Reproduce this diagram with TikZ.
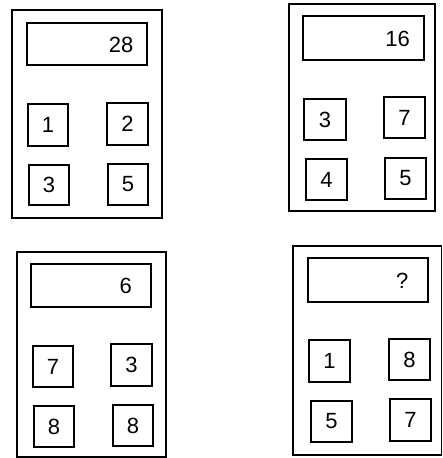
\documentclass[tikz,border=0pt]{standalone}
\usepackage{fontspec}
\setmainfont{Liberation Sans}
\begin{document}
\begin{tikzpicture}[x=1pt,y=-1pt,
  keybox/.style={draw,line width=1.8pt,inner sep=0pt,font=\fontsize{22}{22}\selectfont},
  readout/.style={inner sep=0pt,anchor=east,font=\fontsize{22}{22}\selectfont}]
\useasboundingbox (0,0) rectangle (443,458);
% calculator 1
\draw[line width=1.8pt] (12,10) rectangle (162,218);
\draw[line width=1.8pt] (27,23) rectangle (147,65);
\node[readout] (d1) at (133.5,45) {28};
\node[keybox,minimum width=40pt,minimum height=42pt] (a1) at (48,125) {1};
\node[keybox,minimum width=41pt,minimum height=42pt] (a2) at (127.5,124) {2};
\node[keybox,minimum width=40pt,minimum height=40pt] (a3) at (49,185) {3};
\node[keybox,minimum width=40pt,minimum height=41pt] (a4) at (128,184.5) {5};
% calculator 2
\draw[line width=1.8pt] (289,4) rectangle (435,211);
\draw[line width=1.8pt] (303,16) rectangle (424,60);
\node[readout] (d2) at (410,39) {16};
\node[keybox,minimum width=42pt,minimum height=41pt] (b1) at (325,119.5) {3};
\node[keybox,minimum width=41pt,minimum height=41pt] (b2) at (404.5,117.5) {7};
\node[keybox,minimum width=41pt,minimum height=41pt] (b3) at (326.5,179.5) {4};
\node[keybox,minimum width=41pt,minimum height=41pt] (b4) at (405.5,178.5) {5};
% calculator 3
\draw[line width=1.8pt] (17,252) rectangle (166,457);
\draw[line width=1.8pt] (31,264) rectangle (151,307);
\node[readout] (d3) at (132,286) {6};
\node[keybox,minimum width=40pt,minimum height=41pt] (c1) at (53,366.5) {7};
\node[keybox,minimum width=41pt,minimum height=42pt] (c2) at (131.5,365) {3};
\node[keybox,minimum width=40pt,minimum height=41pt] (c3) at (54,426.5) {8};
\node[keybox,minimum width=40pt,minimum height=41pt] (c4) at (133,425.5) {8};
% calculator 4
\draw[line width=1.8pt] (293,246) rectangle (441.5,455);
\draw[line width=1.8pt] (308,258) rectangle (428,302);
\node[readout] (d4) at (408.5,281) {?};
\node[keybox,minimum width=41pt,minimum height=42pt] (e1) at (329.5,361) {1};
\node[keybox,minimum width=41pt,minimum height=41pt] (e2) at (409.5,359.5) {8};
\node[keybox,minimum width=41pt,minimum height=41pt] (e3) at (331.5,421.5) {5};
\node[keybox,minimum width=41pt,minimum height=42pt] (e4) at (410.5,420) {7};
\end{tikzpicture}
\end{document}
